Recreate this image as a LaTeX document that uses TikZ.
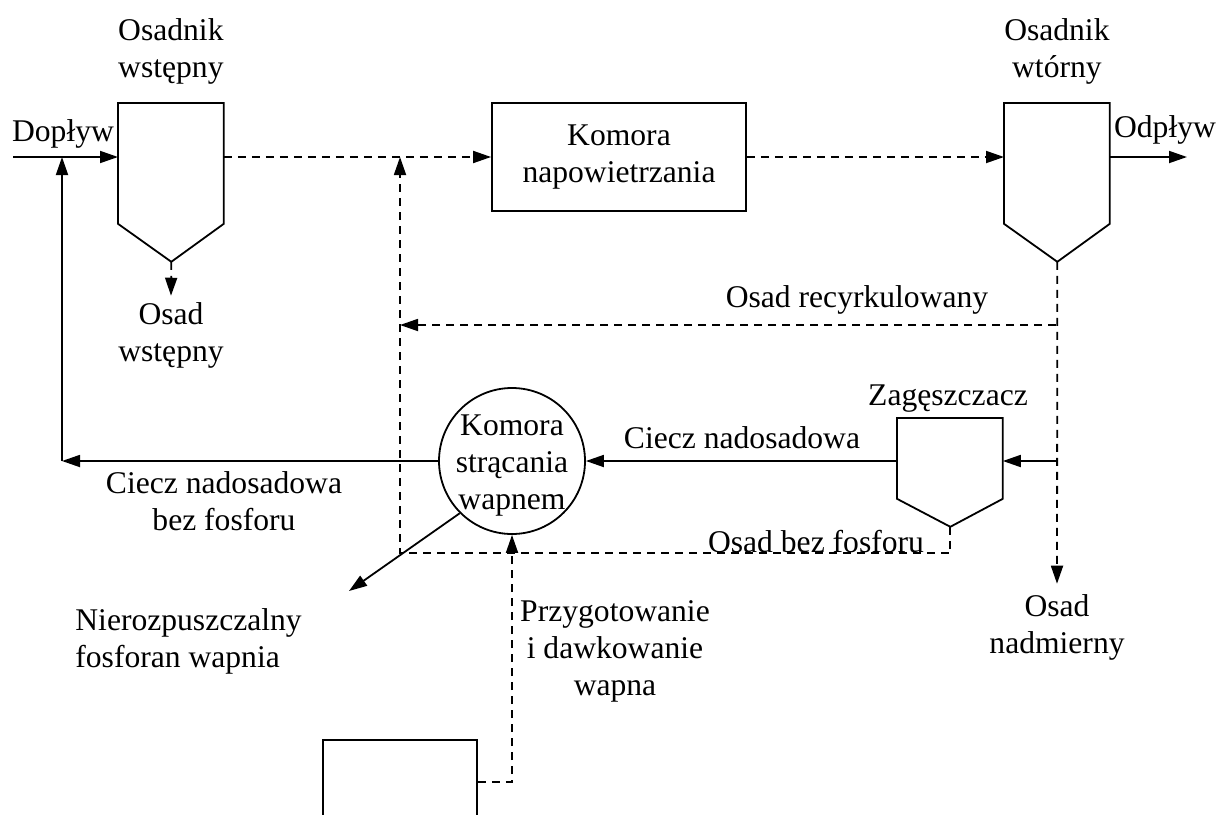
\documentclass[tikz,border=0pt]{standalone}
\usepackage{fontspec}
\setmainfont{Liberation Serif}
\usetikzlibrary{positioning,arrows.meta}
\tikzset{
flow/.style={line width=0.9pt, -{Triangle[length=9pt,width=6pt]}},
sludge/.style={flow, dash pattern=on 4pt off 3pt},
wall/.style={line width=0.9pt},
txt/.style={align=center, inner sep=0pt, font=\fontsize{15.8}{18.5}\selectfont}
}
% #1 name, #2 x, #3 y (top left), #4 wall height, #5 cone depth
\newcommand{\osadnik}[5]{
\node[anchor=north west, minimum width=52.5pt, minimum height=#4, inner sep=0pt] (#1) at (#2,#3) {};
\draw[wall] (#1.north west) -- (#1.north east) -- (#1.south east) -- ++(-26.25pt,-#5) coordinate (#1-tip) -- (#1.south west) -- cycle;
}

\begin{document}
\begin{tikzpicture}[x=0.5pt,y=-0.5pt]
\useasboundingbox (0,0) rectangle (1219,814);
\clip (0,0) rectangle (1219,814);

\osadnik{ow}{118}{103}{60pt}{19pt}
\osadnik{owt}{1004}{103}{60pt}{19pt}
\osadnik{zag}{897}{418}{40pt}{14pt}

\node[draw, wall, minimum width=127pt, minimum height=54pt, txt] (kn) at (619,157) {Komora\\napowietrzania};
\node[draw, wall, circle, minimum size=73pt] (ks) at (512,461) {};
\node[txt] at ([yshift=-2.5pt]ks.center) {Komora\\strącania\\wapnem};
\node[draw, wall, anchor=north west, minimum width=77pt, minimum height=42pt] (wap) at (322,739) {};

\coordinate (in) at (13,157);
\coordinate (out) at (1187,157);
\coordinate (ret) at (62,461);
\coordinate (byp) at (400,553);
\coordinate (rec) at (1056,325);
\coordinate (zin) at (1056,461);
\coordinate (nier) at (349,591);

\node[txt, above=9pt of ow] {Osadnik\\wstępny};
\node[txt, above=9pt of owt] {Osadnik\\wtórny};
\node[txt] (osw) at (171,335) {Osad\\wstępny};
\node[txt] (osn) at (1057,627) {Osad\\nadmierny};
\node[txt] at (63,134) {Dopływ};
\node[txt] at (1165,130) {Odpływ};
\node[txt] at (857,300) {Osad recyrkulowany};
\node[txt] at (948,399) {Zagęszczacz};
\node[txt] at (742,438) {Ciecz nadosadowa};
\node[txt] at (224,501) {Ciecz nadosadowa\\bez fosforu};
\node[txt] at (816,542) {Osad bez fosforu};
\node[txt, align=left, anchor=west] at (75,641) {Nierozpuszczalny\\fosforan wapnia};
\node[txt] at (615,651) {Przygotowanie\\i dawkowanie\\wapna};

\draw[flow] (in) -- (in -| ow.west);
\draw[sludge] (in -| ow.east) -- (kn.west);
\draw[sludge] (kn.east) -- (kn.east -| owt.west);
\draw[flow] (kn.east -| owt.east) -- (out);
\draw[sludge] (ow-tip) -- ([yshift=3pt]osw.north);
\draw[sludge] (owt-tip) -- ([yshift=5pt]osn.north);
\draw[sludge] (rec) -- (rec -| byp);
\draw[flow] (zin) -- (zin -| zag.east);
\draw[flow] (zin -| zag.west) -- (ks.east);
\draw[flow] (ks.west) -- (ret);
\draw[flow] (ret) -- (ret |- in);
\draw[sludge] (zag-tip) |- (byp) -- (byp |- in);
\draw[flow] (ks.225) -- (nier);
\draw[sludge] (wap.east) -| (ks.south);
\end{tikzpicture}
\end{document}
